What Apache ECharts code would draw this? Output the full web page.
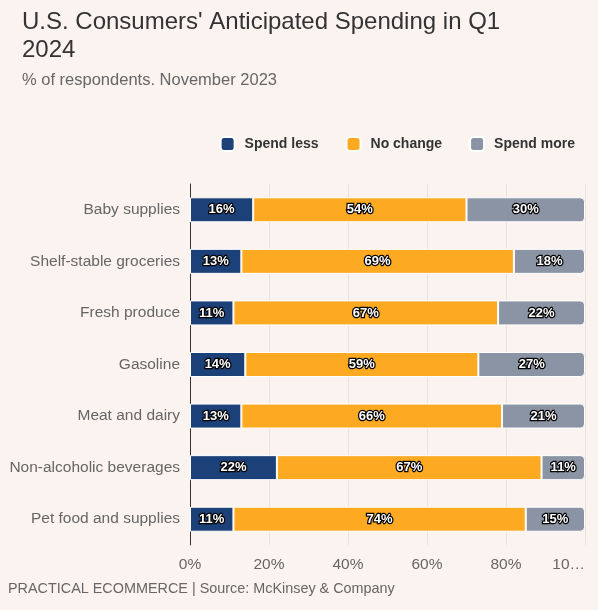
<!DOCTYPE html>
<html>
<head>
<meta charset="utf-8">
<script src="https://cdn.jsdelivr.net/npm/echarts@6/dist/echarts.min.js"></script>
<style>
html,body{margin:0;padding:0;background:#fbf3f0;}
#chart{width:598px;height:610px;}
</style>
</head>
<body>
<div id="chart"></div>
<script>
const categories = ["Baby supplies","Shelf-stable groceries","Fresh produce","Gasoline","Meat and dairy","Non-alcoholic beverages","Pet food and supplies"];
const spendLess = [16,13,11,14,13,22,11];
const noChange = [54,69,67,59,66,67,74];
const spendMore = [30,18,22,27,21,11,15];
const xTicks = [0,20,40,60,80,100];

const chart = echarts.init(document.getElementById('chart'));
const font = '"Liberation Sans", Arial, sans-serif';
const lbl = {
  show: true,
  position: 'inside',
  formatter: p => p.value + '%',
  color: '#fff',
  fontWeight: 'bold',
  fontSize: 13,
  fontFamily: font,
  textBorderColor: '#000',
  textBorderWidth: 2.5
};
function mk(name, data, color, radius){
  return {
    name, type: 'bar', stack: 'all', data,
    barWidth: 25,
    itemStyle: {color, borderColor: '#fff', borderWidth: 1, borderRadius: radius},
    label: lbl,
    emphasis: {disabled: true}
  };
}
chart.setOption({
  backgroundColor: '#fbf3f0',
  animation: false,
  textStyle: {fontFamily: font},
  title: [{
    text: "U.S. Consumers' Anticipated Spending in Q1\n2024",
    left: 17, top: 3,
    textStyle: {fontSize: 24, fontWeight: 'normal', color: '#333', lineHeight: 28, fontFamily: font},
    subtext: '% of respondents. November 2023',
    subtextStyle: {fontSize: 16.5, color: '#666', fontFamily: font, lineHeight: 18},
    itemGap: 7
  }],
  graphic: [{
    type: 'text', left: 8, top: 582,
    style: {text: 'PRACTICAL ECOMMERCE | Source: McKinsey & Company', fontSize: 14.4, fill: '#666', fontFamily: font}
  }],
  legend: {
    top: 131, right: 18,
    itemWidth: 14, itemHeight: 14, itemGap: 27,
    icon: 'roundRect',
    textStyle: {fontSize: 14, fontWeight: 'bold', color: '#333', fontFamily: font, padding: [0,0,0,5]},
    data: ['Spend less','No change','Spend more']
  },
  grid: {left: 190, right: 13, top: 184, bottom: 65, containLabel: false},
  xAxis: {
    type: 'value', min: 0, max: 100, interval: 20,
    axisLine: {show: false}, axisTick: {show: false},
    splitLine: {lineStyle: {color: '#e9e2e0', width: 1}},
    axisLabel: {
      fontSize: 15.5, color: '#666', margin: 12, fontFamily: font,
      formatter: v => v === 100 ? '10\u2026' : v + '%',
      alignMaxLabel: 'right'
    }
  },
  yAxis: {
    type: 'category', data: categories, inverse: true,
    axisLine: {show: true, lineStyle: {color: '#333', width: 1}},
    axisTick: {show: false},
    axisLabel: {fontSize: 15.5, color: '#666', margin: 10, fontFamily: font}
  },
  series: [
    mk('Spend less', spendLess, '#1c4179', 0),
    mk('No change', noChange, '#fdaa22', 0),
    mk('Spend more', spendMore, '#8a94a4', [0,4,4,0])
  ]
});
</script>
</body>
</html>
